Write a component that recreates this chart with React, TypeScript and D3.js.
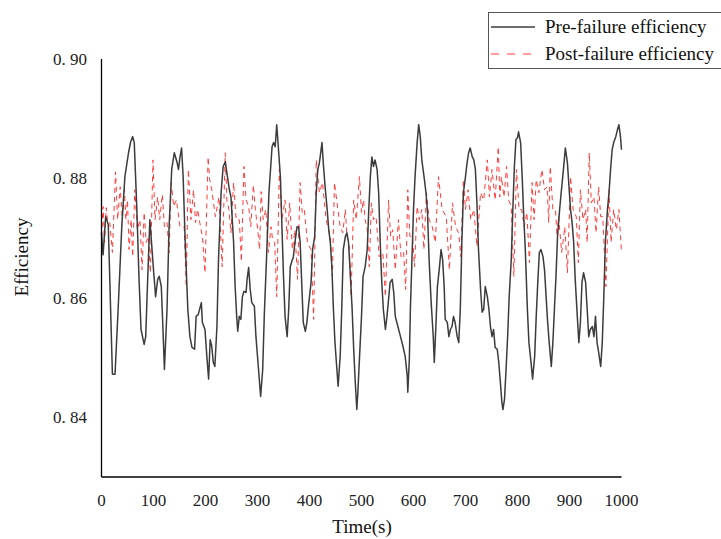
import React from "react";
import * as d3 from "d3";

// ---- Data ----
const preTime = [0,3,8,13,21,26,32,39,45,52,56,60,63,68,72,76,82,85,89,93,100,104,108,111,115,118,121,126,130,135,140,145,148,151,154,157,161,166,170,174,179,182,186,192,194,199,203,206,209,212,215,218,222,225,230,234,238,241,246,249,254,257,260,262,265,268,271,274,278,280,283,286,289,294,297,302,306,310,313,318,322,328,331,334,337,340,344,347,350,353,357,360,363,366,369,372,376,379,382,385,388,392,395,398,403,406,410,413,416,419,423,424,427,430,434,437,440,443,446,449,455,459,462,465,469,472,475,478,482,485,488,491,493,496,500,503,507,511,514,517,520,523,526,530,533,536,539,542,546,549,552,555,559,562,565,570,575,578,581,584,588,589,592,594,597,600,603,607,610,613,616,621,624,627,630,634,638,640,643,646,650,653,656,659,661,665,668,671,674,677,680,684,687,690,693,696,700,703,706,709,713,716,719,722,725,729,732,735,738,742,745,748,751,754,757,761,764,767,770,772,775,778,781,784,788,791,794,797,800,802,806,809,812,815,819,822,826,829,833,836,839,842,845,849,852,855,858,861,865,868,871,874,877,881,884,887,890,892,896,899,902,905,908,911,915,918,921,924,927,931,934,937,940,944,947,950,953,956,960,963,966,969,973,976,979,982,985,989,992,995,998,1000];
const preEff = [.8709,.8672,.8736,.8723,.8472,.8472,.8581,.8719,.8803,.8843,.8861,.8870,.8860,.8748,.8636,.8547,.8522,.8535,.8636,.8731,.8647,.8602,.8631,.8636,.8619,.8552,.8480,.8581,.8719,.8815,.8843,.8828,.8815,.8836,.8851,.8803,.8693,.8581,.8535,.8517,.8514,.8569,.8572,.8592,.8559,.8547,.8497,.8464,.8530,.8519,.8492,.8485,.8552,.8664,.8776,.8820,.8828,.8810,.8781,.8769,.8693,.8619,.8569,.8544,.8569,.8564,.8602,.8611,.8609,.8631,.8651,.8614,.8592,.8586,.8535,.8480,.8435,.8480,.8569,.8681,.8776,.8853,.8860,.8853,.8890,.8853,.8803,.8719,.8636,.8569,.8535,.8581,.8652,.8661,.8669,.8693,.8719,.8719,.8693,.8626,.8559,.8544,.8559,.8586,.8626,.8681,.8703,.8776,.8815,.8826,.8853,.8860,.8820,.8786,.8748,.8714,.8693,.8652,.8581,.8525,.8452,.8502,.8581,.8681,.8703,.8709,.8693,.8647,.8581,.8514,.8459,.8413,.8442,.8497,.8569,.8636,.8652,.8681,.8748,.8803,.8836,.8820,.8831,.8815,.8776,.8693,.8626,.8581,.8547,.8569,.8597,.8626,.8631,.8609,.8569,.8552,.8535,.8525,.8514,.8502,.8469,.8442,.8497,.8581,.8664,.8748,.8803,.8860,.8890,.8870,.8831,.8798,.8776,.8743,.8664,.8592,.8535,.8492,.8552,.8619,.8652,.8681,.8664,.8619,.8564,.8559,.8535,.8547,.8552,.8569,.8559,.8535,.8525,.8581,.8693,.8776,.8803,.8826,.8843,.8851,.8836,.8831,.8815,.8759,.8681,.8614,.8576,.8581,.8619,.8602,.8581,.8552,.8535,.8547,.8517,.8514,.8492,.8459,.8425,.8413,.8430,.8480,.8535,.8602,.8664,.8748,.8820,.8865,.8868,.8878,.8860,.8803,.8736,.8681,.8581,.8525,.8492,.8464,.8502,.8569,.8626,.8676,.8681,.8669,.8647,.8602,.8559,.8525,.8485,.8525,.8581,.8636,.8703,.8748,.8776,.8803,.8831,.8851,.8826,.8786,.8748,.8726,.8693,.8631,.8569,.8525,.8559,.8626,.8642,.8626,.8581,.8535,.8547,.8552,.8535,.8569,.8525,.8509,.8485,.8525,.8602,.8693,.8748,.8776,.8815,.8848,.8860,.8870,.8881,.8890,.8870,.8848];

const postTime = [0,3,6,9,12,16,21,27,31,36,40,44,47,50,53,57,60,64,69,74,78,82,86,90,94,99,103,108,112,117,121,126,130,134,139,144,151,159,163,167,172,177,181,185,189,194,199,205,208,212,219,226,232,238,241,245,249,254,259,265,269,274,278,283,287,292,296,301,304,307,311,316,321,326,329,333,337,342,347,353,357,362,367,372,377,382,386,390,396,403,408,413,419,425,432,440,444,448,453,459,464,469,472,476,480,485,490,496,500,504,507,511,515,519,523,528,534,541,546,552,556,560,565,571,576,581,585,589,593,598,602,607,611,616,620,625,630,636,642,648,655,663,669,675,681,687,691,696,700,705,710,716,722,729,735,742,746,751,757,763,766,769,774,779,783,788,793,798,803,808,813,818,823,828,832,836,841,847,852,857,860,863,868,873,876,879,885,891,896,902,907,913,917,921,926,931,934,938,942,947,951,956,960,964,970,976,980,985,990,995,1000];
const postEff = [.8703,.8753,.8693,.8751,.8726,.8726,.8676,.8811,.8731,.8786,.8731,.8781,.8731,.8764,.8681,.8731,.8669,.8781,.8714,.8731,.8647,.8743,.8693,.8703,.8642,.8831,.8731,.8769,.8731,.8773,.8719,.8726,.8676,.8793,.8753,.8764,.8719,.8719,.8619,.8815,.8731,.8781,.8726,.8748,.8726,.8703,.8642,.8836,.8798,.8781,.8736,.8769,.8652,.8843,.8764,.8748,.8709,.8793,.8731,.8731,.8661,.8820,.8764,.8753,.8719,.8789,.8748,.8709,.8681,.8778,.8731,.8748,.8676,.8719,.8698,.8693,.8602,.8815,.8731,.8764,.8698,.8759,.8681,.8714,.8631,.8793,.8743,.8748,.8693,.8681,.8564,.8831,.8776,.8793,.8731,.8703,.8636,.8793,.8759,.8719,.8709,.8748,.8703,.8693,.8602,.8764,.8731,.8803,.8743,.8764,.8731,.8714,.8652,.8759,.8731,.8736,.8669,.8676,.8602,.8764,.8703,.8714,.8647,.8731,.8669,.8676,.8614,.8781,.8703,.8703,.8652,.8753,.8731,.8748,.8681,.8776,.8731,.8719,.8693,.8803,.8748,.8736,.8647,.8759,.8719,.8709,.8669,.8798,.8748,.8781,.8731,.8748,.8686,.8776,.8764,.8831,.8769,.8815,.8764,.8853,.8769,.8803,.8769,.8820,.8764,.8753,.8636,.8815,.8748,.8748,.8719,.8743,.8659,.8793,.8731,.8798,.8776,.8815,.8781,.8786,.8726,.8820,.8748,.8748,.8703,.8736,.8676,.8719,.8642,.8803,.8748,.8736,.8659,.8781,.8731,.8748,.8693,.8843,.8759,.8769,.8709,.8786,.8736,.8736,.8619,.8781,.8693,.8748,.8714,.8748,.8676];

const xTicks = [0, 100, 200, 300, 400, 500, 600, 700, 800, 900, 1000];
const yTicks = [0.84, 0.86, 0.88, 0.9];
const yTickLabels = ["0. 84", "0. 86", "0. 88", "0. 90"];
const seriesNames = ["Pre-failure efficiency", "Post-failure efficiency"];

const W = 721;
const H = 539;
const FONT = "'Liberation Serif', 'Times New Roman', serif";

export default function App() {
  const x = d3.scaleLinear().domain([0, 1000]).range([101.5, 621.5]);
  const y = d3.scaleLinear().domain([0.83, 0.9]).range([477, 59]);

  const preData = preTime.map((t, i) => [t, preEff[i]] as [number, number]);
  const postData = postTime.map((t, i) => [t, postEff[i]] as [number, number]);

  const line = d3
    .line<[number, number]>()
    .x((d) => x(d[0]))
    .y((d) => y(d[1]));

  return (
    <svg
      width={W}
      height={H}
      style={{ position: "absolute", left: 0, top: 0, background: "#fff" }}
      fontFamily={FONT}
    >
      <rect x={0} y={0} width={W} height={H} fill="#fff" />
      {/* post-failure (red dashed) */}
      <path
        d={line(postData) || ""}
        fill="none"
        stroke="#ff3b3b"
        strokeWidth={1}
        strokeDasharray="5,4"
      />
      {/* pre-failure (dark solid) */}
      <path
        d={line(preData) || ""}
        fill="none"
        stroke="#3c3c3c"
        strokeWidth={1.5}
        strokeLinejoin="round"
      />
      {/* axes */}
      <line x1={x(0)} x2={x(0)} y1={y(0.9)} y2={y(0.83)} stroke="#000" strokeWidth={1.3} />
      <line x1={x(0)} x2={x(1000)} y1={y(0.83)} y2={y(0.83)} stroke="#000" strokeWidth={1.3} />
      {yTicks.map((v, i) => (
        <text key={v} x={87} y={y(v) + 6} textAnchor="end" fontSize={17} fill="#222">
          {yTickLabels[i]}
        </text>
      ))}
      {xTicks.map((t) => (
        <text key={t} x={x(t)} y={506} textAnchor="middle" fontSize={17} fill="#222">
          {t}
        </text>
      ))}
      <text x={362} y={533} textAnchor="middle" fontSize={19} fill="#111">
        Time(s)
      </text>
      <text
        transform={`translate(28,257) rotate(-90)`}
        textAnchor="middle"
        fontSize={19}
        fill="#111"
      >
        Efficiency
      </text>
      {/* legend */}
      <rect x={488.5} y={12.5} width={240} height={56} fill="#fff" stroke="#555" strokeWidth={1} />
      <line x1={491} x2={535} y1={27} y2={27} stroke="#3c3c3c" strokeWidth={1.5} />
      <text x={545} y={33} fontSize={19} fill="#111">
        {seriesNames[0]}
      </text>
      <line x1={491} x2={535} y1={54} y2={54} stroke="#ff3b3b" strokeWidth={1} strokeDasharray="8,8" />
      <text x={545} y={60} fontSize={19} fill="#111">
        {seriesNames[1]}
      </text>
    </svg>
  );
}
